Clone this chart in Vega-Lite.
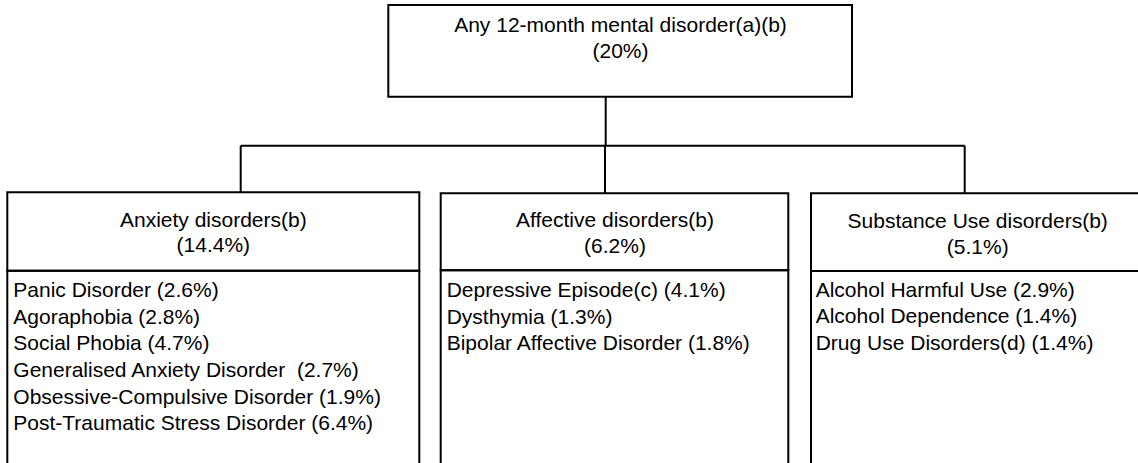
{
  "$schema": "https://vega.github.io/schema/vega-lite/v6.json",
  "width": 1138,
  "height": 463,
  "autosize": {"type": "fit", "contains": "padding"},
  "padding": 0,
  "background": "white",
  "config": {"view": {"stroke": null}},
  "datasets": {
    "boxes": [
      {"node": "Any 12-month mental disorder", "x1": 388.3, "x2": 852, "y1": 5, "y2": 96.7},
      {"node": "Anxiety disorders header", "x1": 7.3, "x2": 419.3, "y1": 192.3, "y2": 270.7},
      {"node": "Anxiety disorders list", "x1": 7.3, "x2": 419.3, "y1": 270.7, "y2": 480},
      {"node": "Affective disorders header", "x1": 440.7, "x2": 788.3, "y1": 193.3, "y2": 270.3},
      {"node": "Affective disorders list", "x1": 440.7, "x2": 788.3, "y1": 270.3, "y2": 480},
      {"node": "Substance Use disorders header", "x1": 811, "x2": 1145, "y1": 193.3, "y2": 271},
      {"node": "Substance Use disorders list", "x1": 811, "x2": 1145, "y1": 271, "y2": 480}
    ],
    "links": [
      {"x1": 605.7, "y1": 96.7, "x2": 605.7, "y2": 145.7},
      {"x1": 240.7, "y1": 145.7, "x2": 964.7, "y2": 145.7},
      {"x1": 240.7, "y1": 145.7, "x2": 240.7, "y2": 192.3},
      {"x1": 605, "y1": 145.7, "x2": 605, "y2": 193.3},
      {"x1": 964.7, "y1": 145.7, "x2": 964.7, "y2": 193.3}
    ],
    "headings": [
      {"label": "Any 12-month mental disorder(a)(b)", "x": 620.5, "y": 32.3},
      {"label": "(20%)", "x": 620.5, "y": 57.5},
      {"label": "Anxiety disorders(b)", "x": 213.3, "y": 226.8},
      {"label": "(14.4%)", "x": 213.3, "y": 252.4},
      {"label": "Affective disorders(b)", "x": 615, "y": 227},
      {"label": "(6.2%)", "x": 615, "y": 253},
      {"label": "Substance Use disorders(b)", "x": 977.7, "y": 228.3},
      {"label": "(5.1%)", "x": 977.7, "y": 254.2}
    ],
    "items": [
      {"label": "Panic Disorder (2.6%)", "x": 13.3, "y": 297},
      {"label": "Agoraphobia (2.8%)", "x": 13.3, "y": 323.6},
      {"label": "Social Phobia (4.7%)", "x": 13.3, "y": 350.3},
      {"label": "Generalised Anxiety Disorder\u00a0 (2.7%)", "x": 13.3, "y": 377},
      {"label": "Obsessive-Compulsive Disorder (1.9%)", "x": 13.3, "y": 403.6},
      {"label": "Post-Traumatic Stress Disorder (6.4%)", "x": 13.3, "y": 430.3},
      {"label": "Depressive Episode(c) (4.1%)", "x": 446.7, "y": 297},
      {"label": "Dysthymia (1.3%)", "x": 446.7, "y": 323.6},
      {"label": "Bipolar Affective Disorder (1.8%)", "x": 446.7, "y": 350.3},
      {"label": "Alcohol Harmful Use (2.9%)", "x": 815.7, "y": 296.8},
      {"label": "Alcohol Dependence (1.4%)", "x": 815.7, "y": 323.4},
      {"label": "Drug Use Disorders(d) (1.4%)", "x": 815.7, "y": 350}
    ]
  },
  "layer": [
    {
      "data": {"name": "boxes"},
      "mark": {"type": "rect", "fill": "transparent", "stroke": "#000000", "strokeWidth": 2, "clip": true},
      "encoding": {
        "x": {"field": "x1", "type": "quantitative", "scale": {"domain": [0, 1138], "nice": false, "zero": false}, "axis": null},
        "x2": {"field": "x2"},
        "y": {"field": "y1", "type": "quantitative", "scale": {"domain": [0, 463], "nice": false, "zero": false, "reverse": true}, "axis": null},
        "y2": {"field": "y2"}
      }
    },
    {
      "data": {"name": "links"},
      "mark": {"type": "rule", "stroke": "#000000", "strokeWidth": 2, "clip": true},
      "encoding": {
        "x": {"field": "x1", "type": "quantitative"},
        "x2": {"field": "x2"},
        "y": {"field": "y1", "type": "quantitative"},
        "y2": {"field": "y2"}
      }
    },
    {
      "data": {"name": "headings"},
      "mark": {"type": "text", "align": "center", "baseline": "alphabetic", "font": "Liberation Sans", "fontSize": 21, "color": "#000000"},
      "encoding": {
        "x": {"field": "x", "type": "quantitative"},
        "y": {"field": "y", "type": "quantitative"},
        "text": {"field": "label"}
      }
    },
    {
      "data": {"name": "items"},
      "mark": {"type": "text", "align": "left", "baseline": "alphabetic", "font": "Liberation Sans", "fontSize": 21, "color": "#000000"},
      "encoding": {
        "x": {"field": "x", "type": "quantitative"},
        "y": {"field": "y", "type": "quantitative"},
        "text": {"field": "label"}
      }
    }
  ]
}
